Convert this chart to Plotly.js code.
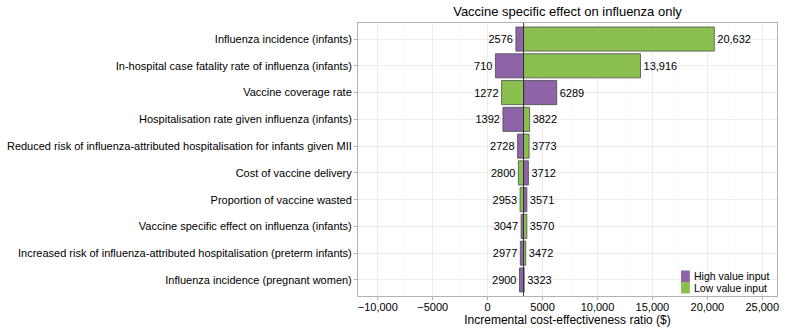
<!DOCTYPE html>
<html>
<head>
<meta charset="utf-8">
<script src="https://cdn.plot.ly/plotly-3.0.1.min.js"></script>
<style>html,body{margin:0;padding:0;background:#fff;}#chart{width:786px;height:329px;}</style>
</head>
<body>
<div id="chart"></div>
<script>
// ---- data ----
var categories = [
  "Influenza incidence (infants)",
  "In-hospital case fatality rate of influenza (infants)",
  "Vaccine coverage rate",
  "Hospitalisation rate given influenza (infants)",
  "Reduced risk of influenza-attributed hospitalisation for infants given MII",
  "Cost of vaccine delivery",
  "Proportion of vaccine wasted",
  "Vaccine specific effect on influenza (infants)",
  "Increased risk of influenza-attributed hospitalisation (preterm infants)",
  "Influenza incidence (pregnant women)"
];
var highValueICER = [2576, 710, 6289, 1392, 2728, 3712, 3571, 3047, 2977, 2900];
var lowValueICER  = [20632, 13916, 1272, 3822, 3773, 2800, 2953, 3570, 3472, 3323];
var baselineICER = 3270;
var seriesNames = ["High value input", "Low value input"];
var xTickVals = [-10000, -5000, 0, 5000, 10000, 15000, 20000, 25000];
var xTickText = ["\u221210,000", "\u22125000", "0", "5000", "10,000", "15,000", "20,000", "25,000"];

function fmt(v) {
  var s = String(Math.round(Math.abs(v)));
  if (Math.abs(v) >= 10000) s = s.replace(/\B(?=(\d{3})+(?!\d))/g, ",");
  return (v < 0 ? "\u2212" : "") + s;
}
function deltas(arr) { return arr.map(function (v) { return v - baselineICER; }); }

var purple = "#8e63a8";
var green = "#8bbf4f";
var colors = [purple, green];

var common = {
  type: "bar",
  orientation: "h",
  y: categories,
  base: baselineICER,
  textposition: "outside",
  constraintext: "none",
  cliponaxis: false,
  textfont: {family: "Liberation Sans, Arial, sans-serif", size: 11, color: "#000"},
  hoverinfo: "none",
  showlegend: false
};

var traceHigh = Object.assign({}, common, {
  name: seriesNames[0],
  x: deltas(highValueICER),
  text: highValueICER.map(fmt),
  marker: {color: purple, line: {color: "#4d4d4d", width: 0.8}}
});
var traceLow = Object.assign({}, common, {
  name: seriesNames[1],
  x: deltas(lowValueICER),
  text: lowValueICER.map(fmt),
  marker: {color: green, line: {color: "#4d4d4d", width: 0.8}}
});

// compact legend (ggplot-style keys stacked without gap)
var legX0 = 0.771, legX1 = 0.792, legTextX = 0.7995;
var legTop = 0.0934, legKeyH = 0.0421;
var legendShapes = [], legendAnns = [];
seriesNames.forEach(function (nm, i) {
  var yTop = legTop - i * legKeyH, yBot = yTop - legKeyH;
  legendShapes.push({
    type: "rect", xref: "paper", yref: "paper",
    x0: legX0, x1: legX1, y0: yBot, y1: yTop,
    fillcolor: colors[i], line: {width: 0}, layer: "above"
  });
  legendAnns.push({
    xref: "paper", yref: "paper", x: legTextX, y: (yTop + yBot) / 2,
    xanchor: "left", yanchor: "middle", showarrow: false, borderpad: 0,
    text: nm, font: {size: 10.5, color: "#000"}
  });
});

var layout = {
  width: 786, height: 329,
  margin: {l: 358, r: 9, t: 23, b: 33},
  paper_bgcolor: "#fff",
  plot_bgcolor: "#fff",
  font: {family: "Liberation Sans, Arial, sans-serif", size: 11, color: "#000"},
  barmode: "overlay",
  bargap: 0.1,
  showlegend: false,
  title: {
    text: "Vaccine specific effect on influenza only",
    font: {size: 13, color: "#000"},
    xref: "paper", x: 0.5, xanchor: "center",
    yref: "container", y: 0.965, yanchor: "middle"
  },
  xaxis: {
    range: [-11800, 26340],
    tickvals: xTickVals,
    ticktext: xTickText,
    ticks: "outside", ticklen: 3, tickcolor: "#b3b3b3", tickwidth: 1,
    ticklabelstandoff: -2,
    tickfont: {size: 11, color: "#000"},
    showgrid: true, gridcolor: "#ececec", gridwidth: 1,
    minor: {dtick: 2500, tick0: 0, showgrid: true, gridcolor: "#f6f6f6", gridwidth: 0.6, ticks: ""},
    zeroline: false,
    showline: true, linecolor: "#b3b3b3", linewidth: 1, mirror: true,
    title: {text: "Incremental cost-effectiveness ratio ($)", font: {size: 12, color: "#000"}, standoff: 0},
    automargin: false
  },
  yaxis: {
    type: "category",
    range: [9.6, -0.6],
    ticks: "outside", ticklen: 3, tickcolor: "#b3b3b3", tickwidth: 1,
    tickfont: {size: 11, color: "#000"},
    showgrid: true, gridcolor: "#ececec", gridwidth: 1,
    zeroline: false,
    showline: true, linecolor: "#b3b3b3", linewidth: 1, mirror: true,
    automargin: false
  },
  shapes: [{
    type: "line", xref: "x", yref: "paper",
    x0: baselineICER, x1: baselineICER, y0: 0, y1: 1,
    line: {color: "#333", width: 1}, layer: "above"
  }].concat(legendShapes),
  annotations: legendAnns
};

Plotly.newPlot("chart", [traceHigh, traceLow], layout, {displayModeBar: false, staticPlot: true});
</script>
</body>
</html>
